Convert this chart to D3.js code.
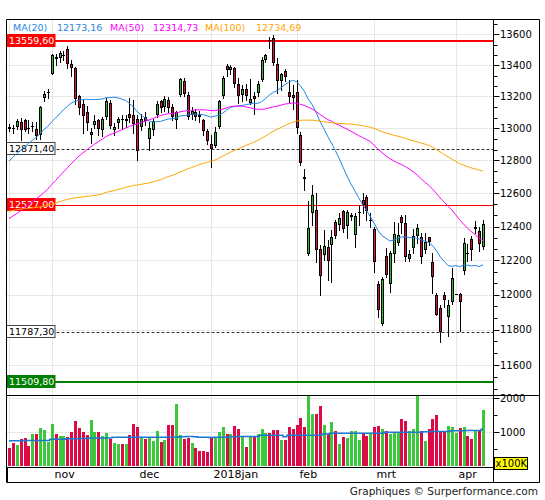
<!DOCTYPE html>
<html><head><meta charset="utf-8">
<script src="https://cdn.jsdelivr.net/npm/d3@7/dist/d3.min.js"></script>
<style>
body{margin:0;background:#fff}
svg{display:block}
text{font-family:"DejaVu Sans",Verdana,sans-serif}
</style>
</head><body>
<svg id="c" width="545" height="500"></svg>
<script>
// ---------------- data ----------------
const dates = ["2017-10-16","2017-10-17","2017-10-18","2017-10-19","2017-10-20","2017-10-23","2017-10-24","2017-10-25","2017-10-26","2017-10-27","2017-10-30",
"2017-11-01","2017-11-02","2017-11-03","2017-11-06","2017-11-07","2017-11-08","2017-11-09","2017-11-10","2017-11-13","2017-11-14","2017-11-15","2017-11-16","2017-11-17","2017-11-20","2017-11-21","2017-11-22","2017-11-23","2017-11-24","2017-11-27","2017-11-28","2017-11-29","2017-11-30",
"2017-12-01","2017-12-04","2017-12-05","2017-12-06","2017-12-07","2017-12-08","2017-12-11","2017-12-12","2017-12-13","2017-12-14","2017-12-15","2017-12-18","2017-12-19","2017-12-20","2017-12-21","2017-12-22","2017-12-27","2017-12-28","2017-12-29",
"2018-01-02","2018-01-03","2018-01-04","2018-01-05","2018-01-08","2018-01-09","2018-01-10","2018-01-11","2018-01-12","2018-01-15","2018-01-16","2018-01-17","2018-01-18","2018-01-19","2018-01-22","2018-01-23","2018-01-24","2018-01-25","2018-01-26","2018-01-29","2018-01-30","2018-01-31",
"2018-02-01","2018-02-02","2018-02-05","2018-02-06","2018-02-07","2018-02-08","2018-02-09","2018-02-12","2018-02-13","2018-02-14","2018-02-15","2018-02-16","2018-02-19","2018-02-20","2018-02-21","2018-02-22","2018-02-23","2018-02-26","2018-02-27","2018-02-28",
"2018-03-01","2018-03-02","2018-03-05","2018-03-06","2018-03-07","2018-03-08","2018-03-09","2018-03-12","2018-03-13","2018-03-14","2018-03-15","2018-03-16","2018-03-19","2018-03-20","2018-03-21","2018-03-22","2018-03-23","2018-03-26","2018-03-27","2018-03-28","2018-03-29",
"2018-04-03","2018-04-04","2018-04-05","2018-04-06","2018-04-09","2018-04-10","2018-04-11","2018-04-12"];

const open = [13010,13005,13010,13040,13050,13010,13005,12995,12955,13190,13220,
13345,13455,13445,13460,13505,13410,13380,13200,13150,13100,12960,13020,13050,12990,13070,13160,12990,13035,13065,13045,13090,13080,
13060,13010,13070,12930,12990,13080,13170,13130,13180,13130,13050,13210,13300,13210,13080,13100,13085,13050,12980,
12900,12890,13010,13200,13395,13370,13380,13280,13210,13250,13160,13200,13220,13305,13435,13570,13575,13410,13300,13360,13230,13210,
13230,12960,12700,12235,12480,12500,12265,12230,12280,12290,12425,12410,12494,12403,12455,12350,12480,12560,12575,12430,
12385,12060,11830,12225,12060,12237,12300,12455,12420,12210,12275,12345,12340,12260,12336,12192,12000,11925,12000,11870,11960,
12002,12002,12140,12250,12325,12385,12375,12280];

const high = [13025,13020,13060,13062,13060,13050,13040,13040,13140,13235,13250,
13470,13470,13490,13490,13526,13430,13390,13210,13180,13140,13000,13080,13060,13070,13190,13180,13030,13070,13080,13085,13190,13180,
13080,13090,13100,13040,13060,13170,13180,13200,13195,13150,13110,13320,13320,13225,13130,13120,13110,13060,12995,
12960,13010,13180,13330,13410,13400,13390,13320,13270,13280,13310,13230,13300,13450,13475,13580,13597,13445,13350,13375,13305,13270,
13305,12975,12750,12552,12650,12600,12290,12380,12320,12380,12440,12480,12500,12500,12480,12480,12520,12603,12590,12480,
12400,12080,12100,12270,12255,12424,12421,12470,12468,12261,12384,12414,12360,12360,12340,12241,12008,11940,12018,11970,12155,
12002,12010,12330,12295,12345,12430,12400,12440];

const low = [12980,12970,12995,12925,12980,12970,12980,12930,12930,13170,13190,
13340,13400,13420,13430,13380,13330,13150,13090,12970,12990,12910,13000,12960,12950,13060,13000,12960,13000,13000,13010,13040,12970,
12800,12990,13020,12865,12960,13070,13100,13110,13100,13050,13000,13200,13200,13060,13060,13050,13040,12960,12900,
12760,12880,13000,13190,13330,13340,13260,13160,13170,13180,13150,13090,13200,13300,13420,13510,13400,13220,13240,13300,13165,13120,
12968,12770,12620,12230,12410,12190,12000,12200,12085,12075,12330,12380,12370,12330,12440,12280,12410,12480,12440,12400,
12134,11870,11825,12100,12018,12188,12290,12360,12198,12196,12241,12300,12183,12241,12290,12008,11884,11730,11931,11766,11945,
12002,11790,12120,12196,12200,12363,12255,12265];

const close = [12995,13004,13043,12990,12991,13003,13013,12953,13133,13217,13229,
13465,13441,13478,13468,13406,13382,13182,13127,13074,13033,12976,13047,12994,13058,13168,13015,13008,13060,13059,13060,13062,13024,
12861,13058,13048,12999,13045,13154,13124,13184,13126,13068,13104,13312,13216,13069,13110,13073,13070,12980,12918,
12871,12978,13168,13320,13368,13386,13281,13203,13245,13201,13184,13184,13281,13434,13464,13560,13415,13298,13340,13324,13198,13189,
13004,12785,12687,12393,12590,12260,12107,12283,12197,12339,12346,12452,12386,12488,12470,12462,12484,12527,12491,12436,
12190,11914,12091,12114,12245,12356,12347,12418,12221,12238,12346,12390,12217,12307,12309,12100,11886,11787,11971,11941,12097,
12002,11958,12305,12241,12262,12397,12294,12415];

// volume in units of 100K
const volume = [539,696,627,803,833,598,950,950,1127,1068,715,
1244,950,892,892,862,1009,1333,1127,1009,921,1362,1009,1009,892,980,803,686,656,656,656,921,1244,
1156,852,803,833,745,1039,715,774,1215,1215,1832,921,794,823,696,549,451,451,431,
852,852,1019,1166,950,950,1186,1097,852,578,872,872,950,1097,990,990,1068,1068,774,774,1156,1097,
1215,1411,1156,2200,1538,1538,1774,1215,950,1293,1039,656,872,823,1039,1039,774,950,900,950,
1150,1200,1100,1050,950,1000,1000,1400,1330,1050,1100,2200,1050,750,1100,1400,1500,1050,1050,1180,1150,
980,1120,1150,900,800,1030,1030,1650];

// average volume line
const volumeAvg = [754,754,755,755,756,756,757,757,758,758,760,
794,795,796,797,812,813,813,814,815,815,833,833,834,834,835,835,851,852,852,852,853,853,
853,853,852,852,852,852,852,853,853,853,854,872,872,873,873,872,852,851,851,
850,851,852,853,853,872,872,873,873,874,874,875,875,911,911,912,912,912,913,872,912,912,
912,912,913,913,913,913,914,950,951,970,970,971,971,971,972,972,972,973,973,973,
974,974,975,1000,1000,1001,1001,1001,1002,1002,1002,1003,1003,1019,1019,1020,1020,1020,1021,1021,1048,
1048,1049,1049,1050,1050,1050,1051,1088];

// closes before the visible window (needed for the moving averages)
const priorCloses = [12628,12599,12615,
12664,12822,12823,12690,12713,12714,12816,12690,12765,12806,12692,12752,12889,12814,12774,12794,12733,12771,12671,12647,12416,12325,
12475,12437,12453,12381,12389,12445,12437,12627,12641,12631,12587,12430,12452,12447,12240,12209,12264,12305,12212,12162,12118,
12251,12181,12154,12297,12257,12292,12154,12014,12014,12165,12178,12263,12203,12165,12065,12229,12175,12180,12168,12123,11946,12002,12056,
12143,12102,12124,12214,12296,12304,12476,12524,12553,12540,12519,12559,12561,12569,12600,12592,12595,12606,12657,12705,12829,
12902,12970,12968,12956,12977,12949,12970,12982,12992];

const maPeriods = [20, 50, 100];
const legendNames = ["MA(20)", "MA(50)", "MA(100)"];
const legendValues = ["12173,16", "12314,73", "12734,69"];

const priceTicks = [11600,11800,12000,12200,12400,12600,12800,13000,13200,13400,13600];
const volumeTicks = [1000, 2000];
const volumeMinorTicks = [500, 1500];
const volumeUnit = "x100K";

const gridDates = ["2017-10-16","2017-11-01","2017-12-01","2018-01-02","2018-02-01","2018-03-01","2018-04-03"];
const monthStarts = ["2017-11-01","2017-12-01","2018-01-02","2018-02-01","2018-03-01","2018-04-03"];
const monthLabels = ["nov","dec","2018jan","feb","mrt","apr"];

const levels = [13559.60, 12871.40, 12527.00, 11787.30, 11509.80];
const levelLabels = ["13559,60","12871,40","12527,00","11787,30","11509,80"];

const credits = "Graphiques \u00A9 Surperformance.com";

// ---------------- styles / layout ----------------
const F = {left:6.5, right:539.5, axis:493.5, top:19.5, priceBottom:395.5, volBottom:467.5, bottom:482.5};
const maColors = ["#1f86e0", "#ff00ff", "#ffa500"];
const legendX = [13, 57, 110, 153, 205, 256];
const levelStyle = [
  {stroke:"#ff0000", w:2, dash:null, box:"#ff0000", txt:"#fff", border:"#ff0000"},
  {stroke:"#333", w:1, dash:"3,2", box:"#fff", txt:"#000", border:"#444"},
  {stroke:"#ff0000", w:1, dash:null, box:"#ff0000", txt:"#fff", border:"#ff0000"},
  {stroke:"#333", w:1, dash:"3,2", box:"#fff", txt:"#000", border:"#444"},
  {stroke:"#008000", w:2, dash:null, box:"#008000", txt:"#fff", border:"#008000"}
];
const UP = "#2db82d", DOWN = "#d8093f";
const VUP = "#3cc83c", VDOWN = "#dc0a46";

// ---------------- scales ----------------
const svg = d3.select("#c");
const x = d3.scalePoint().domain(dates).range([9, 483]);
const y = d3.scaleLog().domain([11509.8, 13559.6]).range([381.5, 40.5]);
const yv = d3.scaleLinear().domain([0, 2000]).range([466.3, 398.3]);
const cx = d => Math.round(x(d));
const idx = d3.range(dates.length);

const defs = svg.append("defs");
defs.append("clipPath").attr("id","clipP").append("rect")
  .attr("x",F.left).attr("y",F.top).attr("width",F.axis-F.left).attr("height",F.priceBottom-F.top);
defs.append("clipPath").attr("id","clipV").append("rect")
  .attr("x",F.left).attr("y",F.priceBottom+0.5).attr("width",F.axis-F.left).attr("height",F.volBottom-F.priceBottom-0.5);

// ---------------- grid ----------------
const grid = svg.append("g").attr("stroke","#e6e6e6").attr("stroke-width",1);
grid.selectAll("line.h").data(priceTicks).join("line")
  .attr("x1",F.left).attr("x2",F.axis)
  .attr("y1",d=>Math.round(y(d))+0.5).attr("y2",d=>Math.round(y(d))+0.5);
grid.selectAll("line.hv").data(volumeTicks).join("line")
  .attr("x1",F.left).attr("x2",F.axis)
  .attr("y1",d=>Math.round(yv(d))+0.5).attr("y2",d=>Math.round(yv(d))+0.5);
grid.selectAll("line.v").data(gridDates).join("line")
  .attr("x1",d=>cx(d)+0.5).attr("x2",d=>cx(d)+0.5)
  .attr("y1",F.top).attr("y2",F.volBottom);

// ---------------- volume ----------------
const vg = svg.append("g").attr("clip-path","url(#clipV)");
vg.selectAll("rect").data(idx).join("rect")
  .attr("x",i=>cx(dates[i])-1).attr("width",3)
  .attr("y",i=>Math.round(yv(volume[i])))
  .attr("height",i=>Math.round(yv(0))-Math.round(yv(volume[i])))
  .attr("fill",i=>close[i]>=open[i]?VUP:VDOWN);
vg.append("path").datum(idx)
  .attr("fill","none").attr("stroke","#1a78d2").attr("stroke-width",1.5)
  .attr("d", d3.line().curve(d3.curveStep).x(i=>x(dates[i])).y(i=>yv(volumeAvg[i])));

// ---------------- level lines ----------------
const lg = svg.append("g");
levels.forEach((v,k)=>{
  const s = levelStyle[k];
  const yy = s.w===2 ? Math.round(y(v)) : Math.round(y(v))+0.5;
  lg.append("line").attr("x1",F.left).attr("x2",F.axis).attr("y1",yy).attr("y2",yy)
    .attr("stroke",s.stroke).attr("stroke-width",s.w).attr("stroke-dasharray",s.dash);
});

// ---------------- candles ----------------
const cg = svg.append("g").attr("clip-path","url(#clipP)");
cg.selectAll("line.w").data(idx).join("line")
  .attr("x1",i=>cx(dates[i])+0.5).attr("x2",i=>cx(dates[i])+0.5)
  .attr("y1",i=>Math.round(y(high[i]))).attr("y2",i=>Math.round(y(low[i]))+1)
  .attr("stroke","#000").attr("stroke-width",1);
idx.forEach(i=>{
  const c = cx(dates[i]);
  const yo = Math.round(y(open[i])), yc = Math.round(y(close[i]));
  const top = Math.min(yo,yc), h = Math.abs(yo-yc);
  if (h < 2) {
    cg.append("line").attr("x1",c-1).attr("x2",c+2).attr("y1",yc+0.5).attr("y2",yc+0.5)
      .attr("stroke","#000").attr("stroke-width",1);
  } else {
    cg.append("rect").attr("x",c-0.5).attr("y",top+0.5).attr("width",2).attr("height",h-1)
      .attr("fill",close[i]>=open[i]?UP:DOWN).attr("stroke","#000").attr("stroke-width",1);
  }
});

// ---------------- moving averages ----------------
const allCloses = priorCloses.concat(close);
const P = priorCloses.length;
const maSeries = maPeriods.map(n => close.map((c,i)=>d3.mean(allCloses.slice(P+i-n+1, P+i+1))));
const mg = svg.append("g").attr("clip-path","url(#clipP)");
maSeries.forEach((s,k)=>{
  mg.append("path").datum(idx).attr("fill","none").attr("stroke",maColors[k]).attr("stroke-width",1)
    .attr("d", d3.line().x(i=>x(dates[i])).y(i=>y(s[i])));
});

// ---------------- level labels ----------------
levels.forEach((v,k)=>{
  const s = levelStyle[k];
  const yy = Math.round(y(v));
  lg.append("rect").attr("x",F.left).attr("y",yy-6.5).attr("width",48.5).attr("height",12)
    .attr("fill",s.box).attr("stroke",s.border).attr("stroke-width",1);
  lg.append("text").attr("x",9).attr("y",yy).attr("dy","0.36em")
    .attr("font-size",9.5).attr("fill",s.txt).text(levelLabels[k]);
});

// ---------------- legend ----------------
const leg = svg.append("g").attr("font-size",9.5);
legendNames.forEach((n,k)=>{
  leg.append("text").attr("x",legendX[2*k]).attr("y",31).attr("fill",maColors[k]).text(n);
  leg.append("text").attr("x",legendX[2*k+1]).attr("y",31).attr("fill",maColors[k]).text(legendValues[k]);
});

// ---------------- frame & axes ----------------
const fr = svg.append("g").attr("stroke","#000").attr("stroke-width",1).attr("fill","none");
fr.append("line").attr("x1",F.left).attr("x2",F.right).attr("y1",F.top).attr("y2",F.top);
fr.append("line").attr("x1",F.left).attr("x2",F.right).attr("y1",F.bottom).attr("y2",F.bottom);
fr.append("line").attr("x1",F.left).attr("x2",F.left).attr("y1",F.top).attr("y2",F.bottom);
fr.append("line").attr("x1",F.left+1).attr("x2",F.left+1).attr("y1",F.volBottom).attr("y2",F.bottom);
fr.append("line").attr("x1",F.right).attr("x2",F.right).attr("y1",F.top).attr("y2",F.bottom);
fr.append("line").attr("x1",F.axis).attr("x2",F.axis).attr("y1",F.top).attr("y2",F.bottom);
fr.append("line").attr("x1",F.left).attr("x2",F.right).attr("y1",F.priceBottom).attr("y2",F.priceBottom);
fr.append("line").attr("x1",F.left).attr("x2",F.axis).attr("y1",F.volBottom).attr("y2",F.volBottom);

// price ticks
const ax = svg.append("g");
const minor = d3.range(11400, 13800, 200/3).filter(v=>{const p=y(v); return p>F.top+2 && p<F.priceBottom-3;})
  .filter(v=>!priceTicks.some(t=>Math.abs(t-v)<1));
ax.selectAll("line.mn").data(minor).join("line")
  .attr("x1",F.axis).attr("x2",F.axis+4)
  .attr("y1",d=>Math.round(y(d))+0.5).attr("y2",d=>Math.round(y(d))+0.5).attr("stroke","#000");
ax.selectAll("line.mj").data(priceTicks).join("line")
  .attr("x1",F.axis).attr("x2",F.axis+6)
  .attr("y1",d=>Math.round(y(d))+0.5).attr("y2",d=>Math.round(y(d))+0.5).attr("stroke","#000");
ax.selectAll("text.pt").data(priceTicks).join("text")
  .attr("x",500).attr("y",d=>y(d)).attr("dy","0.36em").attr("font-size",10).attr("fill","#000")
  .text(d=>d);

// volume ticks
ax.selectAll("line.vmn").data(volumeMinorTicks).join("line")
  .attr("x1",F.axis).attr("x2",F.axis+4)
  .attr("y1",d=>Math.round(yv(d))+0.5).attr("y2",d=>Math.round(yv(d))+0.5).attr("stroke","#000");
ax.selectAll("line.vmj").data(volumeTicks).join("line")
  .attr("x1",F.axis).attr("x2",F.axis+6)
  .attr("y1",d=>Math.round(yv(d))+0.5).attr("y2",d=>Math.round(yv(d))+0.5).attr("stroke","#000");
ax.selectAll("text.vt").data(volumeTicks).join("text")
  .attr("x",500).attr("y",d=>yv(d)).attr("dy","0.36em").attr("font-size",10).attr("fill","#000")
  .text(d=>d);
ax.append("rect").attr("x",494.5).attr("y",457.5).attr("width",33).attr("height",12)
  .attr("fill","#ffff00").attr("stroke","#000");
ax.append("text").attr("x",495.5).attr("y",463.5).attr("dy","0.36em").attr("font-size",10).text(volumeUnit);

// month labels
ax.selectAll("text.m").data(monthStarts).join("text")
  .attr("x",d=>cx(d)+2.5).attr("y",478).attr("font-size",11).attr("fill","#000")
  .text((d,i)=>monthLabels[i]);

// credits
svg.append("text").attr("x",538).attr("y",495).attr("text-anchor","end")
  .attr("font-size",10.5).attr("fill","#222").text(credits);
</script>
</body></html>
